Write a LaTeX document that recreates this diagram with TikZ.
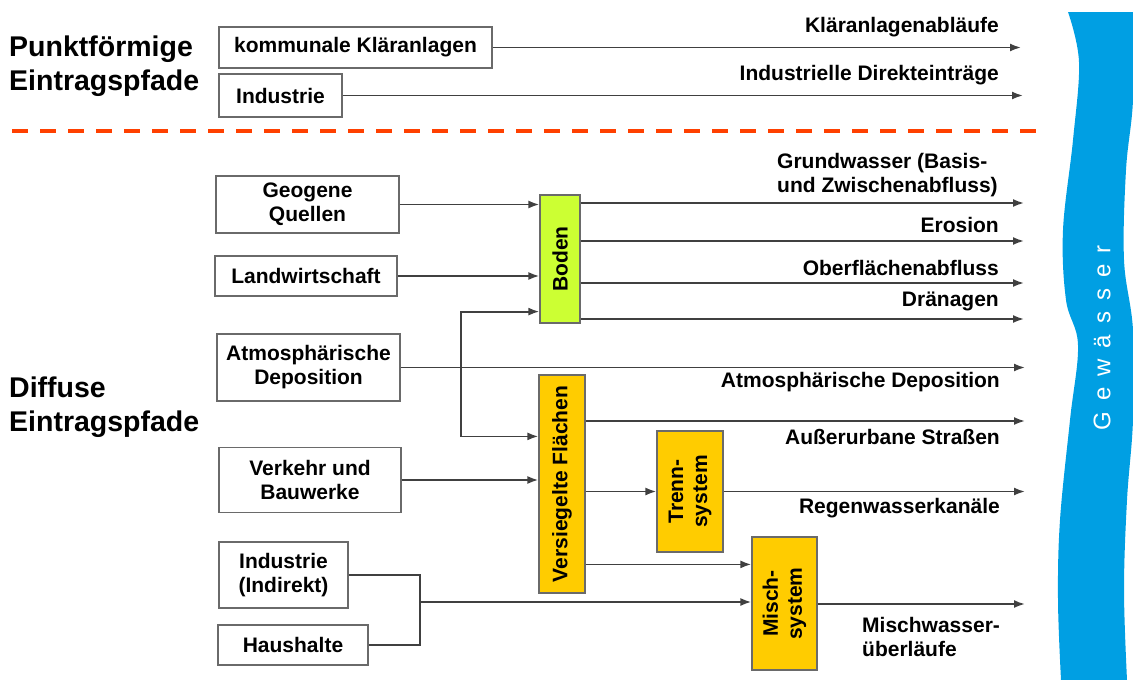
\documentclass[tikz,border=0pt]{standalone}
\usepackage{fontspec}
\setmainfont{Liberation Sans}
\usetikzlibrary{arrows.meta, calc}
\definecolor{linegray}{HTML}{404040}
\definecolor{boxgray}{HTML}{6A6A6A}
\definecolor{bodengreen}{HTML}{CCFF33}
\definecolor{sealgold}{HTML}{FFCC00}
\definecolor{riverblue}{HTML}{009FE3}
\definecolor{splitred}{HTML}{FF4000}

\begin{document}
\begin{tikzpicture}[x=1pt, y=-1pt, >={Latex[length=11pt,width=8pt]},
	line join=miter, font=\bfseries\fontsize{21}{24}\selectfont,
	src/.style={draw=boxgray, line width=1.2pt, fill=white, align=center, inner sep=0pt},
	stage/.style={draw=boxgray, line width=1.2pt, align=center, inner sep=0pt, rotate=90},
	flow/.style={draw=linegray, line width=1.8pt},
	head/.style={align=left, anchor=west, inner sep=0pt, font=\bfseries\fontsize{28.5}{34}\selectfont},
	lab/.style={anchor=east, inner sep=0pt},
	labl/.style={anchor=west, align=left, inner sep=0pt}]

\useasboundingbox (0,0) rectangle (1133,680);

%========================
% river on the right
%========================
\fill[riverblue] plot[smooth, tension=0.6] coordinates {(1068,12) (1079,62) (1073,140) (1063,230) (1066,300) (1078,345) (1070,420) (1060,520) (1058,600) (1061,680)}
	-- plot[smooth, tension=0.6] coordinates {(1127,680) (1124,590) (1127,500) (1133,420) (1133,330) (1124,260) (1126,170) (1133,100) (1133,12)} -- cycle;
\node[rotate=90, text=white, inner sep=0pt,
	font=\mdseries\fontsize{24}{28}\selectfont\addfontfeature{LetterSpace=46}] (gew) at (1102,338) {Gewässer};

%========================
% point sources
%========================
\node[head] (hPunkt) at (9,66) {Punktförmige\\Eintragspfade};
\node[src, minimum width=273, minimum height=41] (kla) at (355.5,47.5) {kommunale Kläranlagen};
\node[src, minimum width=123, minimum height=43] (ind) at (280.5,95.5) {Industrie};

\coordinate (cKla) at (1021,47.5);
\coordinate (cInd) at (1023,95.5);
\draw[flow,->] (kla.east) -- (cKla);
\draw[flow,->] (ind.east) -- (cInd);
\node[lab] (tKla) at (999,27) {Kläranlagenabläufe};
\node[lab] (tInd) at (999,75) {Industrielle Direkteinträge};

% separation
\draw[splitred, line width=4pt, dash pattern=on 16pt off 12pt] (12,131) -- (1036,131);

%========================
% diffuse sources
%========================
\node[head] (hDiff) at (9,407) {Diffuse\\Eintragspfade};

\node[src, minimum width=183, minimum height=57] (geo) at (307.5,204.5) {Geogene\\Quellen};
\node[src, minimum width=182, minimum height=40] (lw) at (306,276) {Landwirtschaft};
\node[src, minimum width=183, minimum height=67] (atm) at (308.5,367.5) {Atmosphärische\\Deposition};
\node[src, minimum width=182, minimum height=65] (vk) at (310,480) {Verkehr und\\Bauwerke};
\node[src, minimum width=129, minimum height=66] (indi) at (283.5,575) {Industrie\\(Indirekt)};
\node[src, minimum width=150, minimum height=40] (hh) at (293,645) {Haushalte};

% intermediate stages (rotated: north = left side, south = right side)
\node[stage, fill=bodengreen, minimum width=128, minimum height=40] (boden) at (560,259) {Boden};
\node[stage, fill=sealgold, minimum width=218, minimum height=46] (vers) at (562,484) {Versiegelte Flächen};
\node[stage, fill=sealgold, minimum width=121, minimum height=66] (trenn) at (690,491.5) {Trenn-\\system};
\node[stage, fill=sealgold, minimum width=133, minimum height=65] (misch) at (784.5,603.5) {Misch-\\system};

% into Boden
\draw[flow,->] (geo.east) -- (geo.east -| boden.north);
\draw[flow,->] (lw.east) -- (lw.east -| boden.north);

% deposition split
\coordinate (cAtm) at (1025,367.5);
\coordinate (jAtm) at (461,367.5);
\draw[flow,->] (atm.east) -- (cAtm);
\draw[flow,->] (jAtm) |- ($(boden.north west)+(0,-12)$);
\draw[flow,->] (jAtm) |- ($(vers.north east)+(0,62)$);
\draw[flow,->] (vk.east) -- (vk.east -| vers.north);

% out of Boden
\coordinate (cGw) at (1024,203);
\coordinate (cEro) at (1024,241);
\coordinate (cOfa) at (1024,283);
\coordinate (cDra) at (1024,319);
\foreach \c in {cGw, cEro, cOfa, cDra}
	\draw[flow,->] (boden.south |- \c) -- (\c);

% out of sealed surfaces
\coordinate (cAus) at (1025,421);
\coordinate (cRwk) at (1025,491.5);
\coordinate (cMwu) at (1025,604);
\coordinate (jMisch) at ($(misch.north east)+(0,28)$);
\draw[flow,->] (vers.south |- cAus) -- (cAus);
\draw[flow,->] (vers.south |- trenn.north) -- (trenn.north);
\draw[flow,->] (vers.south |- jMisch) -- (jMisch);
\draw[flow,->] (trenn.south) -- (cRwk);

% industry + households to combined sewer
\coordinate (jInd) at (420,602);
\draw[flow] (indi.east) -| (jInd);
\draw[flow] (hh.east) -| (jInd);
\draw[flow,->] (jInd) -- (jInd -| misch.north);
\draw[flow,->] (misch.south |- cMwu) -- (cMwu);

% labels of the paths
\node[labl] (tGw) at (777,175) {Grundwasser (Basis-\\und Zwischenabfluss)};
\node[lab] (tEro) at (999,225) {Erosion};
\node[lab] (tOfa) at (999,268) {Oberflächenabfluss};
\node[lab] (tDra) at (999,301) {Dränagen};
\node[lab] (tAtm) at (1000,382) {Atmosphärische Deposition};
\node[lab] (tAus) at (1000,437) {Außerurbane Straßen};
\node[lab] (tRwk) at (1000,508) {Regenwasserkanäle};
\node[labl] (tMwu) at (862,637) {Mischwasser-\\überläufe};

\end{tikzpicture}
\end{document}
